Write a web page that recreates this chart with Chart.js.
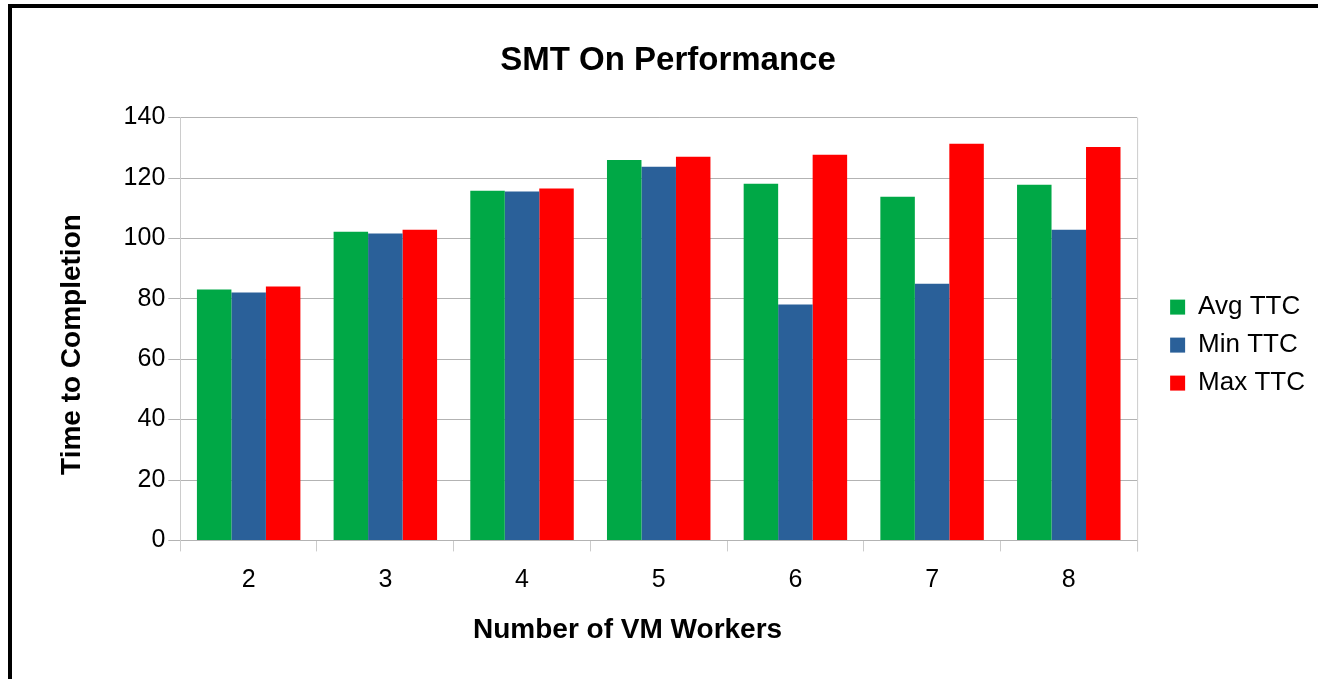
<!DOCTYPE html>
<html lang="en">
<head>
    <meta charset="UTF-8">
    <title>SMT On Performance</title>
    <script src="https://cdn.jsdelivr.net/npm/chart.js@4"></script>
    <style>
        html, body { margin: 0; padding: 0; background: #fff; overflow: hidden; }
        #wrap { position: relative; width: 1318px; height: 679px; }
        #frame {
            position: absolute; left: 8px; top: 4px; width: 1400px; height: 800px;
            border: 4px solid #000; pointer-events: none;
        }
    </style>
</head>
<body>
    <div id="wrap">
        <canvas id="smtChart" width="1318" height="679"></canvas>
        <div id="frame"></div>
    </div>
    <script>
        const workers = ['2', '3', '4', '5', '6', '7', '8'];
        const avgTTC = [83.1, 102.2, 115.8, 126.0, 118.1, 113.8, 117.8];
        const minTTC = [82.1, 101.6, 115.5, 123.7, 78.1, 85.0, 102.9];
        const maxTTC = [84.1, 102.9, 116.5, 127.0, 127.7, 131.3, 130.3];

        Chart.defaults.font.family = '"Liberation Sans", Arial, sans-serif';
        Chart.defaults.color = '#000';

        // right-hand edge of the plot frame
        const plotFrame = {
            id: 'plotFrame',
            afterDraw(chart) {
                const a = chart.chartArea;
                const ctx = chart.ctx;
                ctx.save();
                ctx.strokeStyle = '#cccccc';
                ctx.lineWidth = 1;
                ctx.beginPath();
                ctx.moveTo(a.right + 0.5, a.top);
                ctx.lineTo(a.right + 0.5, a.bottom + 11);
                ctx.stroke();
                ctx.restore();
            }
        };

        const ctx = document.getElementById('smtChart').getContext('2d');
        new Chart(ctx, {
            type: 'bar',
            data: {
                labels: workers,
                datasets: [
                    { label: 'Avg TTC', data: avgTTC, backgroundColor: '#00a846' },
                    { label: 'Min TTC', data: minTTC, backgroundColor: '#2a6099' },
                    { label: 'Max TTC', data: maxTTC, backgroundColor: '#ff0000' }
                ]
            },
            options: {
                responsive: false,
                animation: false,
                layout: { padding: { left: 21, right: 3, top: 0, bottom: 32 } },
                datasets: {
                    bar: { categoryPercentage: 0.757, barPercentage: 1.0 }
                },
                scales: {
                    x: {
                        grid: {
                            drawOnChartArea: false,
                            color: '#cccccc',
                            tickLength: 11,
                            offset: true
                        },
                        border: { color: '#b3b3b3' },
                        ticks: { font: { size: 25 }, padding: 14 },
                        title: {
                            display: true,
                            // trailing spaces nudge the centred title left, as in the original
                            text: 'Number of VM Workers        ',
                            font: { size: 28, weight: 'bold' },
                            padding: { top: 4, bottom: 0 }
                        }
                    },
                    y: {
                        min: 0,
                        max: 140,
                        ticks: { stepSize: 20, font: { size: 25 }, padding: 3 },
                        grid: { color: '#b3b3b3', tickLength: 12 },
                        border: { color: '#cccccc' },
                        title: {
                            display: true,
                            text: 'Time to Completion    ',
                            font: { size: 28, weight: 'bold' },
                            padding: { top: 34, bottom: 32 }
                        }
                    },
                    // empty spacer between plot and legend
                    gap: {
                        type: 'linear',
                        axis: 'y',
                        position: 'right',
                        grid: { display: false },
                        border: { display: false },
                        ticks: { display: false },
                        afterFit(scale) { scale.width = 21; }
                    }
                },
                plugins: {
                    title: {
                        display: true,
                        text: 'SMT On Performance',
                        font: { size: 33, weight: 'bold' },
                        padding: { top: 41, bottom: 37 }
                    },
                    legend: {
                        position: 'right',
                        title: {
                            display: true,
                            text: ' ',
                            font: { size: 1 },
                            padding: { top: 0, bottom: 42 }
                        },
                        labels: {
                            boxWidth: 15,
                            boxHeight: 15,
                            padding: 12,
                            font: { size: 26 }
                        }
                    },
                    tooltip: { enabled: false }
                }
            },
            plugins: [plotFrame]
        });
    </script>
</body>
</html>
